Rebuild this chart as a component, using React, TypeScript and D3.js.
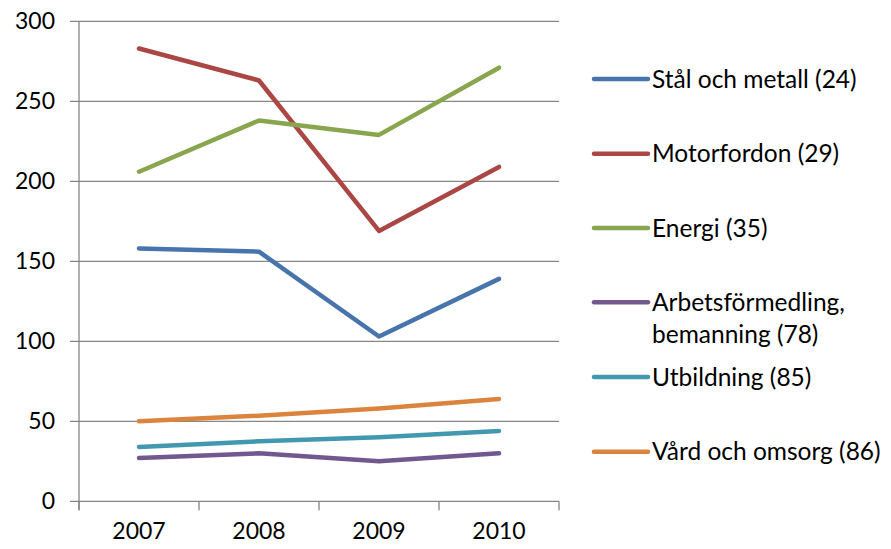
import { useEffect, useRef } from 'react';
import * as d3 from 'd3';

const years = ['2007', '2008', '2009', '2010'];
const seriesNames = [
    'Stål och metall (24)',
    'Motorfordon (29)',
    'Energi (35)',
    'Arbetsförmedling, bemanning (78)',
    'Utbildning (85)',
    'Vård och omsorg (86)',
];
const stal = [158, 156, 103, 139];
const motorfordon = [283, 263, 169, 209];
const energi = [206, 238, 229, 271];
const arbets = [27, 30, 25, 30];
const utbildning = [34, 37.5, 40, 44];
const vard = [50, 53.5, 58, 64];
const yTicks = [0, 50, 100, 150, 200, 250, 300];

const colors = ['#4674AB', '#AA4643', '#89A54E', '#71588F', '#4198AF', '#DB843D'];

export default function App() {
    let ref = useRef<SVGSVGElement>(null);

    useEffect(() => {
        const left = 79, right = 559, top = 21.3, bottom = 501.3;
        const font = 'Lato, Calibri, sans-serif';

        const svg = d3.select(ref.current);
        svg.selectAll('*').remove();

        const x = d3.scaleBand().domain(years).range([left, right]);
        const y = d3.scaleLinear().domain([0, 300]).range([bottom, top]);
        const axisColor = '#868686';

        // gridlines + y ticks
        svg.append('g')
            .selectAll('line')
            .data(yTicks)
            .join('line')
            .attr('x1', left - 9)
            .attr('x2', right)
            .attr('y1', d => y(d))
            .attr('y2', d => y(d))
            .attr('stroke', axisColor)
            .attr('stroke-width', 1.3);

        svg.append('g')
            .selectAll('text')
            .data(yTicks)
            .join('text')
            .attr('x', 55)
            .attr('y', d => y(d))
            .attr('dy', '0.35em')
            .attr('text-anchor', 'end')
            .style('font-family', font)
            .style('font-size', '23px')
            .attr('fill', '#000')
            .text(d => d);

        // y axis line
        svg.append('line')
            .attr('x1', left).attr('x2', left)
            .attr('y1', top).attr('y2', bottom + 9)
            .attr('stroke', axisColor).attr('stroke-width', 1.3);

        // x tick marks at band edges
        const edges = years.map(d => x(d)!).concat([right]);
        svg.append('g')
            .selectAll('line')
            .data(edges)
            .join('line')
            .attr('x1', d => d).attr('x2', d => d)
            .attr('y1', bottom).attr('y2', bottom + 9)
            .attr('stroke', axisColor).attr('stroke-width', 1.3);

        svg.append('g')
            .selectAll('text')
            .data(years)
            .join('text')
            .attr('x', d => x(d)! + x.bandwidth() / 2)
            .attr('y', 539)
            .attr('text-anchor', 'middle')
            .style('font-family', font)
            .style('font-size', '23px')
            .text(d => d);

        const allSeries = [stal, motorfordon, energi, arbets, utbildning, vard];
        const line = d3.line<number>()
            .x((d, i) => x(years[i])! + x.bandwidth() / 2)
            .y(d => y(d));

        svg.append('g')
            .selectAll('path')
            .data(allSeries)
            .join('path')
            .attr('d', d => line(d))
            .attr('fill', 'none')
            .attr('stroke', (d, i) => colors[i])
            .attr('stroke-width', 4.5)
            .attr('stroke-linecap', 'round')
            .attr('stroke-linejoin', 'round');

        // legend
        const legendY = [79, 153.7, 228, 302.3, 377, 451.7];
        const legend = svg.append('g')
            .selectAll('g')
            .data(seriesNames)
            .join('g')
            .attr('transform', (d, i) => `translate(0,${legendY[i]})`);

        legend.append('line')
            .attr('x1', 594).attr('x2', 648)
            .attr('y1', 0).attr('y2', 0)
            .attr('stroke', (d, i) => colors[i])
            .attr('stroke-width', 4.5)
            .attr('stroke-linecap', 'round');

        legend.each(function (d) {
            const g = d3.select(this);
            const parts = d.includes(',') ? [d.split(', ')[0] + ',', d.split(', ')[1]] : [d];
            parts.forEach((p, j) => {
                g.append('text')
                    .attr('x', 652)
                    .attr('y', j * 32.5)
                    .attr('dy', '0.35em')
                    .style('font-family', font)
                    .style('font-size', '24.5px')
                    .attr('fill', '#000')
                    .text(p);
            });
        });
    });

    return (
        <svg ref={ref} width={891} height={549}
            style={{ position: 'absolute', left: 0, top: 0, background: '#fff' }} />
    );
}
